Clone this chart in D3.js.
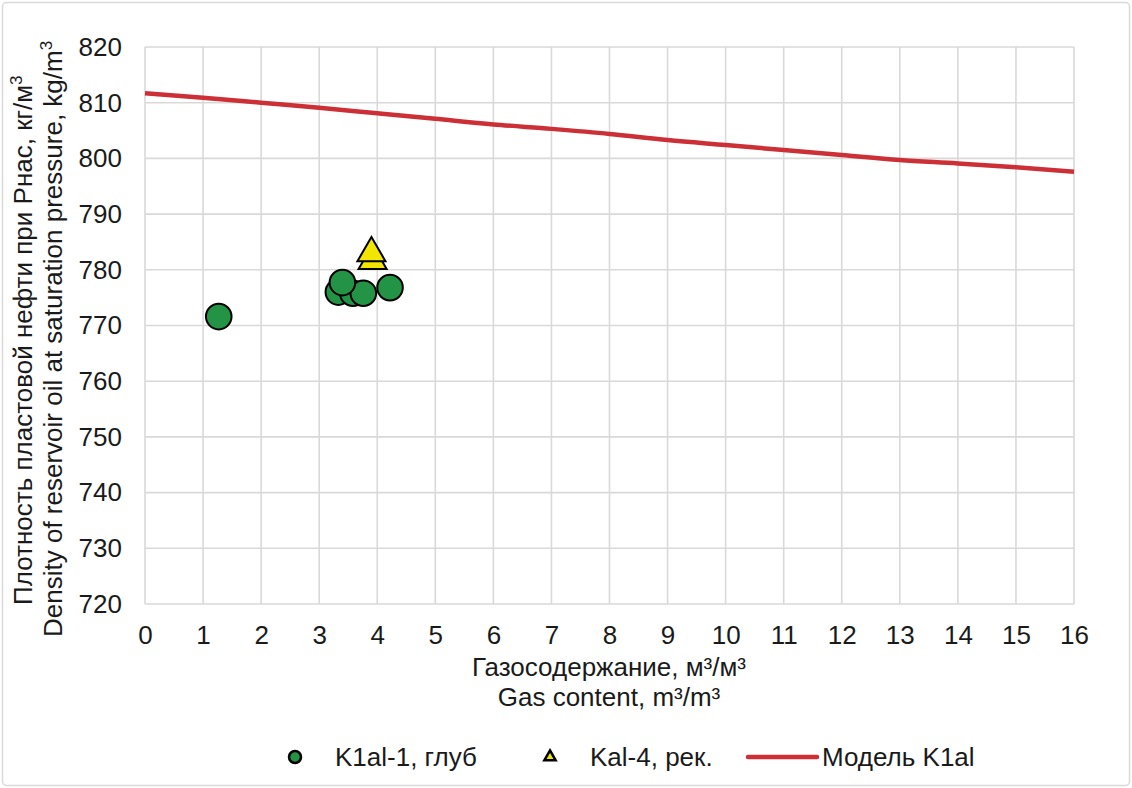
<!DOCTYPE html>
<html><head><meta charset="utf-8">
<script src="https://cdn.jsdelivr.net/npm/d3@7"></script>
<style>body{margin:0;background:#fff;}svg{display:block;font-family:"Liberation Sans",Arial,sans-serif;}</style>
</head><body>
<svg id="c" width="1132" height="788"></svg>
<script>
const xTicks = [0,1,2,3,4,5,6,7,8,9,10,11,12,13,14,15,16];
const yTicks = [720,730,740,750,760,770,780,790,800,810,820];
const k1alX = [1.27, 3.33, 3.58, 3.76, 4.22, 3.40];
const k1alY = [771.6, 776.0, 775.8, 775.8, 776.8, 777.7];
const kal4X = [3.92, 3.90];
const kal4Y = [781.6, 783.0];
const modelX = [0,1,2,3,4,5,6,7,8,9,10,11,12,13,14,15,16];
const modelY = [811.7,810.9,810.0,809.1,808.1,807.1,806.1,805.3,804.4,803.3,802.4,801.5,800.6,799.7,799.1,798.4,797.6];
const seriesNames = ["K1al-1, глуб","Kal-4, рек.","Модель K1al"];

const FS = 26, TXT = "#1a1a1a";
const svg = d3.select("#c");
const W=1132,H=788;
svg.append("rect").attr("x",2.5).attr("y",2.5).attr("width",W-5).attr("height",H-5).attr("rx",4)
  .attr("fill","#fff").attr("stroke","#d9d9d9").attr("stroke-width",1.5);

const x = d3.scaleLinear().domain([0,16]).range([145,1074]);
const y = d3.scaleLinear().domain([720,820]).range([604,47]);

const g = svg.append("g");
g.selectAll("line.vg").data(xTicks).join("line").attr("x1",d=>x(d)).attr("x2",d=>x(d))
  .attr("y1",y(820)).attr("y2",y(720)).attr("stroke","#d9d9d9").attr("stroke-width",1.6);
g.selectAll("line.hg").data(yTicks).join("line").attr("y1",d=>y(d)).attr("y2",d=>y(d))
  .attr("x1",x(0)).attr("x2",x(16)).attr("stroke","#d9d9d9").attr("stroke-width",1.6);

const xa = svg.append("g").attr("transform",`translate(0,${y(720)})`)
  .call(d3.axisBottom(x).tickValues(xTicks).tickSize(0).tickPadding(22).tickFormat(d3.format("d")));
const ya = svg.append("g").attr("transform",`translate(${x(0)},0)`)
  .call(d3.axisLeft(y).tickValues(yTicks).tickSize(0).tickPadding(23).tickFormat(d3.format("d")));
[xa,ya].forEach(a=>{a.select(".domain").remove();
  a.selectAll("text").attr("font-size",FS).attr("fill",TXT).attr("font-family","Liberation Sans, Arial, sans-serif");});

const line = d3.line().x(d=>x(d[0])).y(d=>y(d[1])).curve(d3.curveMonotoneX);
svg.append("path").datum(modelX.map((v,i)=>[v,modelY[i]])).attr("d",line)
  .attr("fill","none").attr("stroke","#cc2f36").attr("stroke-width",4.5);

const tri = d3.symbol().type(d3.symbolTriangle).size(340);
svg.selectAll("path.tri").data(kal4X.map((v,i)=>[v,kal4Y[i]])).join("path")
  .attr("d",tri).attr("transform",d=>`translate(${x(d[0])},${y(d[1])})`)
  .attr("fill","#f2e600").attr("stroke","#000").attr("stroke-width",2);

svg.selectAll("circle.pt").data(k1alX.map((v,i)=>[v,k1alY[i]])).join("circle")
  .attr("cx",d=>x(d[0])).attr("cy",d=>y(d[1])).attr("r",12.8)
  .attr("fill","#239446").attr("stroke","#000").attr("stroke-width",2);

// axis titles
const xt = svg.append("text").attr("text-anchor","middle").attr("font-size",FS).attr("fill",TXT);
xt.append("tspan").attr("x",609).attr("y",676).text("Газосодержание, м³/м³");
xt.append("tspan").attr("x",609).attr("y",706).text("Gas content, m³/m³");

const yt = svg.append("text").attr("text-anchor","start").attr("font-size",FS).attr("fill",TXT)
  .attr("transform","rotate(-90)");
const l1 = yt.append("tspan").attr("x",-605).attr("y",32);
l1.append("tspan").text("Плотность пластовой нефти при Рнас, кг/м");
l1.append("tspan").attr("font-size",17).attr("dy",-10).text("3");
const l2 = yt.append("tspan").attr("x",-637).attr("y",62);
l2.append("tspan").text("Density of reservoir oil at saturation pressure, kg/m");
l2.append("tspan").attr("font-size",17).attr("dy",-10).text("3");

// legend
const ly = 757;
svg.append("circle").attr("cx",295).attr("cy",ly).attr("r",6).attr("fill","#239446").attr("stroke","#000").attr("stroke-width",2.5);
svg.append("path").attr("d",d3.symbol().type(d3.symbolTriangle).size(55)).attr("transform",`translate(550,${ly})`)
  .attr("fill","#f2e600").attr("stroke","#000").attr("stroke-width",2.5);
svg.append("line").attr("x1",748).attr("x2",817).attr("y1",ly).attr("y2",ly).attr("stroke","#cc2f36").attr("stroke-width",4.5).attr("stroke-linecap","round");
const lx=[335,590,822];
seriesNames.forEach((n,i)=>svg.append("text").attr("x",lx[i]).attr("y",ly+9).attr("font-size",FS).attr("fill",TXT).text(n));
</script>
</body></html>
